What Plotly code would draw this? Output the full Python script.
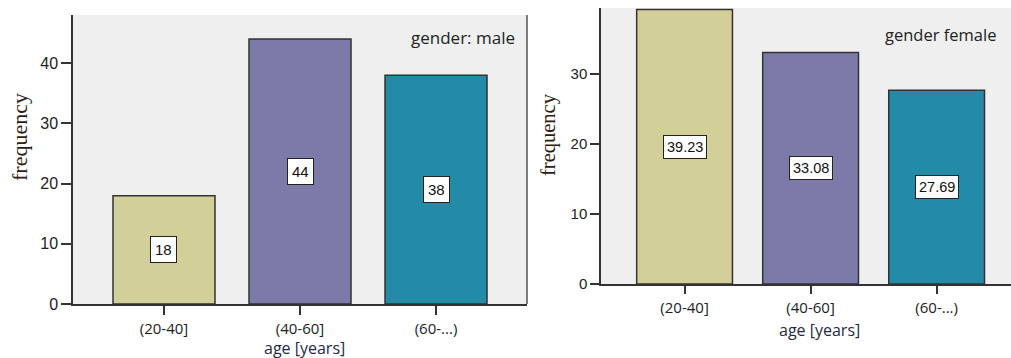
import plotly.graph_objects as go

categories = ["(20-40]", "(40-60]", "(60-...)"]
male_values = [18, 44, 38]
female_values = [39.23, 33.08, 27.69]
male_labels = ["18", "44", "38"]
female_labels = ["39.23", "33.08", "27.69"]
bar_colors = ["#d3cf98", "#7b7aa8", "#238aa8"]

W, H = 1011, 358
def px_x(p): return p / W
def px_y(p): return (H - p) / H

fig = go.Figure()
fig.add_trace(go.Bar(x=categories, y=male_values, xaxis="x", yaxis="y",
                     marker=dict(color=bar_colors, line=dict(color="#333333", width=1.5)),
                     width=0.75, showlegend=False, hoverinfo="skip"))
fig.add_trace(go.Bar(x=categories, y=female_values, xaxis="x2", yaxis="y2",
                     marker=dict(color=bar_colors, line=dict(color="#333333", width=1.5)),
                     width=0.76, showlegend=False, hoverinfo="skip"))

axis_common = dict(showline=True, linecolor="#333333", linewidth=1.5, ticks="outside",
                   tickwidth=1.5, tickcolor="#333333", showgrid=False, automargin=False,
                   zeroline=False, fixedrange=True)

fig.update_layout(
    width=W, height=H, margin=dict(l=0, r=0, t=0, b=0, pad=0, autoexpand=False),
    paper_bgcolor="white", plot_bgcolor="#efefef",
    xaxis=dict(domain=[px_x(73), px_x(527)], anchor="y", range=[-0.669, 2.669],
               ticklen=9, ticklabelstandoff=1,
               tickfont=dict(family="Open Sans, Noto Sans", size=15, color="#222222"),
               **axis_common),
    yaxis=dict(domain=[px_y(304), px_y(15)], anchor="x", range=[0, 48],
               ticklen=10, ticklabelstandoff=0,
               tickvals=[0, 10, 20, 30, 40],
               tickfont=dict(family="Liberation Sans, Arial", size=16, color="#222222"),
               **axis_common),
    xaxis2=dict(domain=[px_x(601), 1.0], anchor="y2", range=[-0.663, 2.59],
                ticklen=8, ticklabelstandoff=1,
                tickfont=dict(family="Open Sans, Noto Sans", size=15, color="#222222"),
                **axis_common),
    yaxis2=dict(domain=[px_y(284), px_y(8)], anchor="x2", range=[0, 39.43],
                ticklen=9, ticklabelstandoff=0,
                tickvals=[0, 10, 20, 30],
                tickfont=dict(family="Liberation Sans, Arial", size=15, color="#222222"),
                **axis_common),
)

# right border of left panel
fig.add_shape(type="line", xref="x domain", yref="y domain", x0=1, x1=1, y0=0, y1=1,
              line=dict(color="#555555", width=1.5))

ann = []
for c, v, t in zip(categories, male_values, male_labels):
    ann.append(dict(x=c, y=v / 2, xref="x", yref="y", text=t, showarrow=False,
                    bgcolor="white", bordercolor="#222222", borderwidth=1, borderpad=4,
                    font=dict(family="Liberation Sans, Arial", size=15, color="#111111")))
for c, v, t in zip(categories, female_values, female_labels):
    ann.append(dict(x=c, y=v / 2, xref="x2", yref="y2", text=t, showarrow=False,
                    bgcolor="white", bordercolor="#222222", borderwidth=1, borderpad=3,
                    font=dict(family="Liberation Sans, Arial", size=14.5, color="#111111")))

def txt(x, y, text, font, angle=0, xanchor="center"):
    return dict(x=px_x(x), y=px_y(y), xref="paper", yref="paper", text=text,
                textangle=angle, showarrow=False, xanchor=xanchor, yanchor="middle",
                font=font)

ann += [
    txt(20, 137, "frequency",
        dict(family="Liberation Serif, Times New Roman", size=22, color="#2b1d14"), -90),
    txt(548, 135, "frequency",
        dict(family="Liberation Serif, Times New Roman", size=20.5, color="#2b1d14"), -90),
    txt(304, 348, "age [years]", dict(family="Open Sans, Noto Sans", size=16, color="#1f2a44")),
    txt(819, 330, "age [years]", dict(family="Open Sans, Noto Sans", size=16, color="#1f2a44")),
    txt(517, 37, "gender: male", dict(family="Open Sans, Noto Sans", size=17, color="#222222"),
        xanchor="right"),
    txt(998, 35, "gender female", dict(family="Open Sans, Noto Sans", size=16.5, color="#222222"),
        xanchor="right"),
]
fig.update_layout(annotations=ann)

fig.write_html("out.html", config={"displayModeBar": False},
               post_script="document.body.style.margin='0';document.body.style.overflow='hidden';")
